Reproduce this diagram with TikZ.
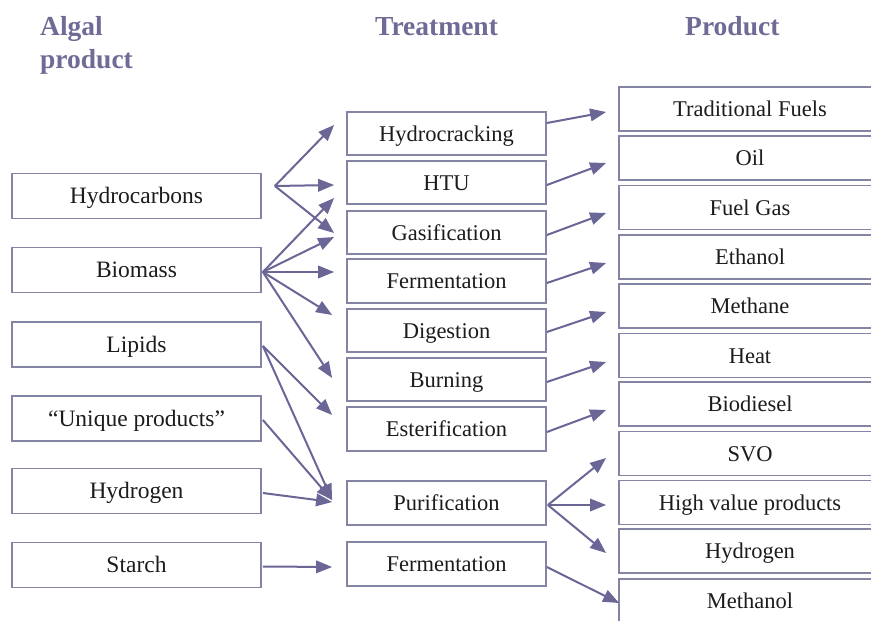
\documentclass[tikz,border=0pt]{standalone}
\usepackage{fontspec}
\setmainfont{Liberation Serif}
\usetikzlibrary{arrows.meta,calc}
\definecolor{hdrc}{RGB}{110,108,150}
\definecolor{boxc}{RGB}{132,132,165}
\definecolor{arrc}{RGB}{106,102,150}
\definecolor{txt}{RGB}{28,28,28}
\newcommand\bodyfnt{\fontsize{22.5}{26}\selectfont}
\newcommand\leftfnt{\fontsize{23.5}{26}\selectfont}
\newcommand\hdrfnt{\fontsize{27.5}{32}\selectfont\bfseries}
\tikzset{
  box/.style={draw=boxc, line width=1.8pt, fill=white, inner sep=0pt,
    text height=15pt, text depth=0pt, font=\bodyfnt, text=txt},
  lbox/.style={box, font=\leftfnt, minimum width=249pt, minimum height=45pt},
  mbox/.style={box, minimum width=199pt, minimum height=43.5pt},
  rbox/.style={box, minimum width=262pt, minimum height=44pt},
  hdr/.style={font=\hdrfnt, text=hdrc, anchor=base west, inner sep=0pt},
  arr/.style={draw=arrc, line width=2pt, -{Triangle[length=16pt,width=12.5pt]}},
}
\begin{document}
\begin{tikzpicture}[x=1pt,y=-1pt]
\useasboundingbox (0,0) rectangle (871,621);
\clip (0,0) rectangle (871,621);
\fill[white] (0,0) rectangle (871,621);
% headers
\node[hdr] (h1) at (40,35) {Algal};
\node[hdr] (h2) at (40,68) {product};
\node[hdr] (h3) at (375,35) {Treatment};
\node[hdr] (h4) at (685,35) {Product};
% left column
\node[lbox] (hc)  at (136.5,196)   {Hydrocarbons};
\node[lbox] (bio) at (136.5,270)   {Biomass};
\node[lbox] (lip) at (136.5,344.5) {Lipids};
\node[lbox] (uni) at (136.5,418.5) {“Unique products”};
\node[lbox] (hyd) at (136.5,491)   {Hydrogen};
\node[lbox] (sta) at (136.5,565)   {Starch};
% middle column
\node[mbox] (hcr)  at (446.5,133.5) {Hydrocracking};
\node[mbox] (htu)  at (446.5,182.5) {HTU};
\node[mbox] (gas)  at (446.5,232.5) {Gasification};
\node[mbox] (fer)  at (446.5,281)   {Fermentation};
\node[mbox] (dig)  at (446.5,330.5) {Digestion};
\node[mbox] (bur)  at (446.5,379.5) {Burning};
\node[mbox] (est)  at (446.5,429)   {Esterification};
\node[mbox] (pur)  at (446.5,503)   {Purification};
\node[mbox] (fer2) at (446.5,564)   {Fermentation};
% right column
\node[rbox] (tf)   at (750,109)   {Traditional Fuels};
\node[rbox] (oil)  at (750,158)   {Oil};
\node[rbox] (fg)   at (750,207.5) {Fuel Gas};
\node[rbox] (eth)  at (750,257)   {Ethanol};
\node[rbox] (met)  at (750,306)   {Methane};
\node[rbox] (heat) at (750,355.5) {Heat};
\node[rbox] (bd)   at (750,404)   {Biodiesel};
\node[rbox] (svo)  at (750,453.5) {SVO};
\node[rbox] (hv)   at (750,502.5) {High value products};
\node[rbox] (h2)   at (750,551)   {Hydrogen};
\node[rbox] (meoh) at (750,601)   {Methanol};
% fan origins
\coordinate (hcO) at ($(hc.east)+(13,-10)$);
\coordinate (bioO) at ($(bio.east)+(1,2)$);
\coordinate (lipO) at ($(lip.east)+(1,1.5)$);
\coordinate (uniO) at ($(uni.east)+(1,1.5)$);
\coordinate (hydO) at ($(hyd.east)+(1,2)$);
\coordinate (staO) at ($(sta.east)+(1,1.5)$);
\coordinate (purO) at ($(pur.east)+(1,2)$);
% left -> middle
\draw[arr] (hcO) -- ($(hcr.west)+(-12,-8.5)$);
\draw[arr] (hcO) -- ($(htu.west)+(-12,2.5)$);
\draw[arr] (hcO) -- ($(gas.west)+(-12,0.5)$);
\draw[arr] (bioO) -- ($(htu.west)+(-12,15.5)$);
\draw[arr] (bioO) -- ($(gas.west)+(-12,4.5)$);
\draw[arr] (bioO) -- ($(fer.west)+(-12,-9)$);
\draw[arr] (bioO) -- ($(dig.west)+(-14,-15.5)$);
\draw[arr] (bioO) -- ($(bur.west)+(-14,-1.5)$);
\draw[arr] (lipO) -- ($(est.west)+(-14,-14)$);
\draw[arr] (lipO) -- ($(pur.west)+(-14,-3)$);
\draw[arr] (uniO) -- ($(pur.west)+(-14,-3)$);
\draw[arr] (hydO) -- ($(pur.west)+(-14,-1)$);
\draw[arr] (staO) -- ($(fer2.west)+(-14,3)$);
% middle -> right
\draw[arr] ($(hcr.east)+(0,-10.5)$) -- ($(tf.west)+(-12,3)$);
\draw[arr] ($(htu.east)+(0,2.5)$) -- ($(oil.west)+(-12,5)$);
\draw[arr] ($(gas.east)+(0,2.5)$) -- ($(fg.west)+(-12,5.5)$);
\draw[arr] ($(fer.east)+(0,2)$) -- ($(eth.west)+(-12,6)$);
\draw[arr] ($(dig.east)+(0,1.5)$) -- ($(met.west)+(-12,6)$);
\draw[arr] ($(bur.east)+(0,2.5)$) -- ($(heat.west)+(-12,6.5)$);
\draw[arr] ($(est.east)+(0,3)$) -- ($(bd.west)+(-12,6)$);
\draw[arr] (purO) -- ($(svo.west)+(-12,4.5)$);
\draw[arr] (purO) -- ($(hv.west)+(-12,2.5)$);
\draw[arr] (purO) -- ($(h2.west)+(-12,2)$);
\draw[arr] ($(fer2.east)+(0,3)$) -- ($(meoh.west)+(1,2)$);
\end{tikzpicture}
\end{document}
